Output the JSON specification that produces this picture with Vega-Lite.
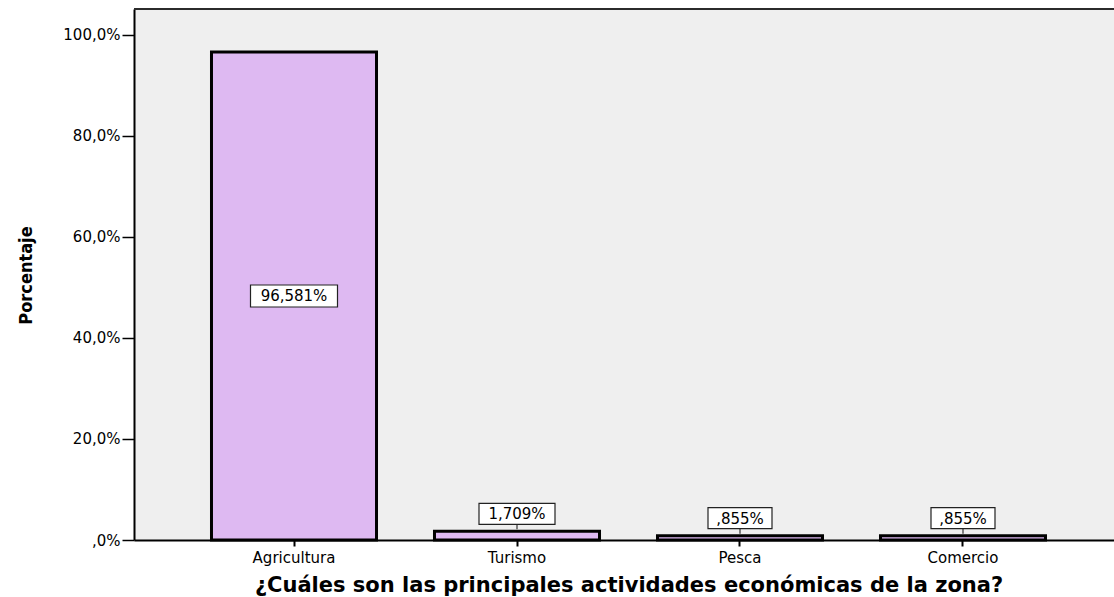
{
  "$schema": "https://vega.github.io/schema/vega-lite/v6.json",
  "width": 980,
  "height": 531,
  "autosize": {"type": "none"},
  "padding": {"left": 134, "top": 9, "right": 0, "bottom": 57},
  "background": "white",
  "config": {
    "view": {"fill": "#EFEFEF", "stroke": null},
    "font": "DejaVu Sans"
  },
  "data": {
    "values": [
      {"actividad": "Agricultura", "porcentaje": 96.581, "etiqueta": "96,581%"},
      {"actividad": "Turismo", "porcentaje": 1.709, "etiqueta": "1,709%"},
      {"actividad": "Pesca", "porcentaje": 0.855, "etiqueta": ",855%"},
      {"actividad": "Comercio", "porcentaje": 0.855, "etiqueta": ",855%"}
    ]
  },
  "resolve": {"scale": {"y": "independent"}},
  "layer": [
    {
      "mark": {"type": "rule", "color": "#2b2b2b", "strokeWidth": 2},
      "encoding": {
        "y": {"datum": 105.1, "type": "quantitative", "scale": {"domain": [0, 105.1], "nice": false, "zero": true}, "axis": null}
      }
    },
    {
      "encoding": {
        "y": {
          "field": "porcentaje",
          "type": "quantitative",
          "scale": {"domain": [0, 105.1], "nice": false, "zero": true},
          "axis": {
            "values": [0, 20, 40, 60, 80, 100],
            "labelExpr": "datum.value == 0 ? ',0%' : replace(format(datum.value, '.1f'), '.', ',') + '%'",
            "grid": false,
            "domainColor": "black",
            "domainWidth": 2,
            "tickColor": "black",
            "tickWidth": 1.5,
            "tickSize": 12,
            "labelPadding": 2,
            "labelFont": "DejaVu Sans",
            "labelFontSize": 15,
            "labelColor": "black",
            "title": "Porcentaje",
            "titleFont": "DejaVu Sans Condensed, DejaVu Sans",
            "titleFontWeight": "bold",
            "titleFontSize": 18,
            "titleColor": "black",
            "titleAngle": -90,
            "titleAlign": "center",
            "titleBaseline": "alphabetic",
            "titleX": -103,
            "titleY": 266
          }
        }
      },
      "layer": [
        {
          "mark": {"type": "bar", "fill": "#DEB9F2", "stroke": "black", "strokeWidth": 3},
          "encoding": {
            "x": {
              "field": "actividad",
              "type": "nominal",
              "sort": null,
              "scale": {"range": [0, 989], "paddingInner": 0.26, "paddingOuter": 0.3475},
              "axis": {
                "labelAngle": 0,
                "domainColor": "black",
                "domainWidth": 2,
                "tickColor": "black",
                "tickWidth": 2,
                "tickSize": 6,
                "labelPadding": 4,
                "labelFont": "DejaVu Sans",
                "labelFontSize": 15,
                "labelColor": "black",
                "title": "¿Cuáles son las principales actividades económicas de la zona?",
                "titleFont": "DejaVu Sans",
                "titleFontWeight": "bold",
                "titleFontSize": 21,
                "titleColor": "black",
                "titleBaseline": "alphabetic",
                "titleY": 51
              }
            }
          }
        },
        {
          "transform": [{"filter": "datum.porcentaje < 50"}],
          "mark": {"type": "rule", "color": "#333333", "strokeWidth": 1.2, "yOffset": -7, "y2Offset": -2},
          "encoding": {
            "x": {"field": "actividad", "type": "nominal", "sort": null},
            "y": {"field": "porcentaje", "type": "quantitative"},
            "y2": {"field": "porcentaje"}
          }
        },
        {
          "transform": [{"filter": "datum.actividad == 'Turismo'"}],
          "mark": {"type": "bar", "width": 76, "fill": "white", "stroke": "#222222", "strokeWidth": 1.2, "yOffset": -28, "y2Offset": -7},
          "encoding": {
            "x": {"field": "actividad", "type": "nominal", "sort": null},
            "y": {"field": "porcentaje", "type": "quantitative"},
            "y2": {"field": "porcentaje"}
          }
        },
        {
          "transform": [{"filter": "datum.actividad == 'Pesca' || datum.actividad == 'Comercio'"}],
          "mark": {"type": "bar", "width": 64, "fill": "white", "stroke": "#222222", "strokeWidth": 1.2, "yOffset": -28, "y2Offset": -7},
          "encoding": {
            "x": {"field": "actividad", "type": "nominal", "sort": null},
            "y": {"field": "porcentaje", "type": "quantitative"},
            "y2": {"field": "porcentaje"}
          }
        },
        {
          "transform": [{"filter": "datum.porcentaje < 50"}],
          "mark": {"type": "text", "font": "DejaVu Sans", "fontSize": 15, "color": "black", "baseline": "middle", "align": "center", "dy": -17},
          "encoding": {
            "x": {"field": "actividad", "type": "nominal", "sort": null},
            "y": {"field": "porcentaje", "type": "quantitative"},
            "text": {"field": "etiqueta"}
          }
        }
      ]
    },
    {
      "transform": [{"filter": "datum.porcentaje >= 50"}],
      "encoding": {
        "x": {"field": "actividad", "type": "nominal", "sort": null},
        "y": {"field": "porcentaje", "type": "quantitative", "scale": {"domain": [0, 210.2], "nice": false, "zero": true}, "axis": null}
      },
      "layer": [
        {
          "mark": {"type": "bar", "width": 87, "fill": "white", "stroke": "#222222", "strokeWidth": 1.2, "yOffset": -11, "y2Offset": 11},
          "encoding": {"y2": {"field": "porcentaje"}}
        },
        {
          "mark": {"type": "text", "font": "DejaVu Sans", "fontSize": 15, "color": "black", "baseline": "middle", "align": "center"},
          "encoding": {"text": {"field": "etiqueta"}}
        }
      ]
    }
  ]
}
